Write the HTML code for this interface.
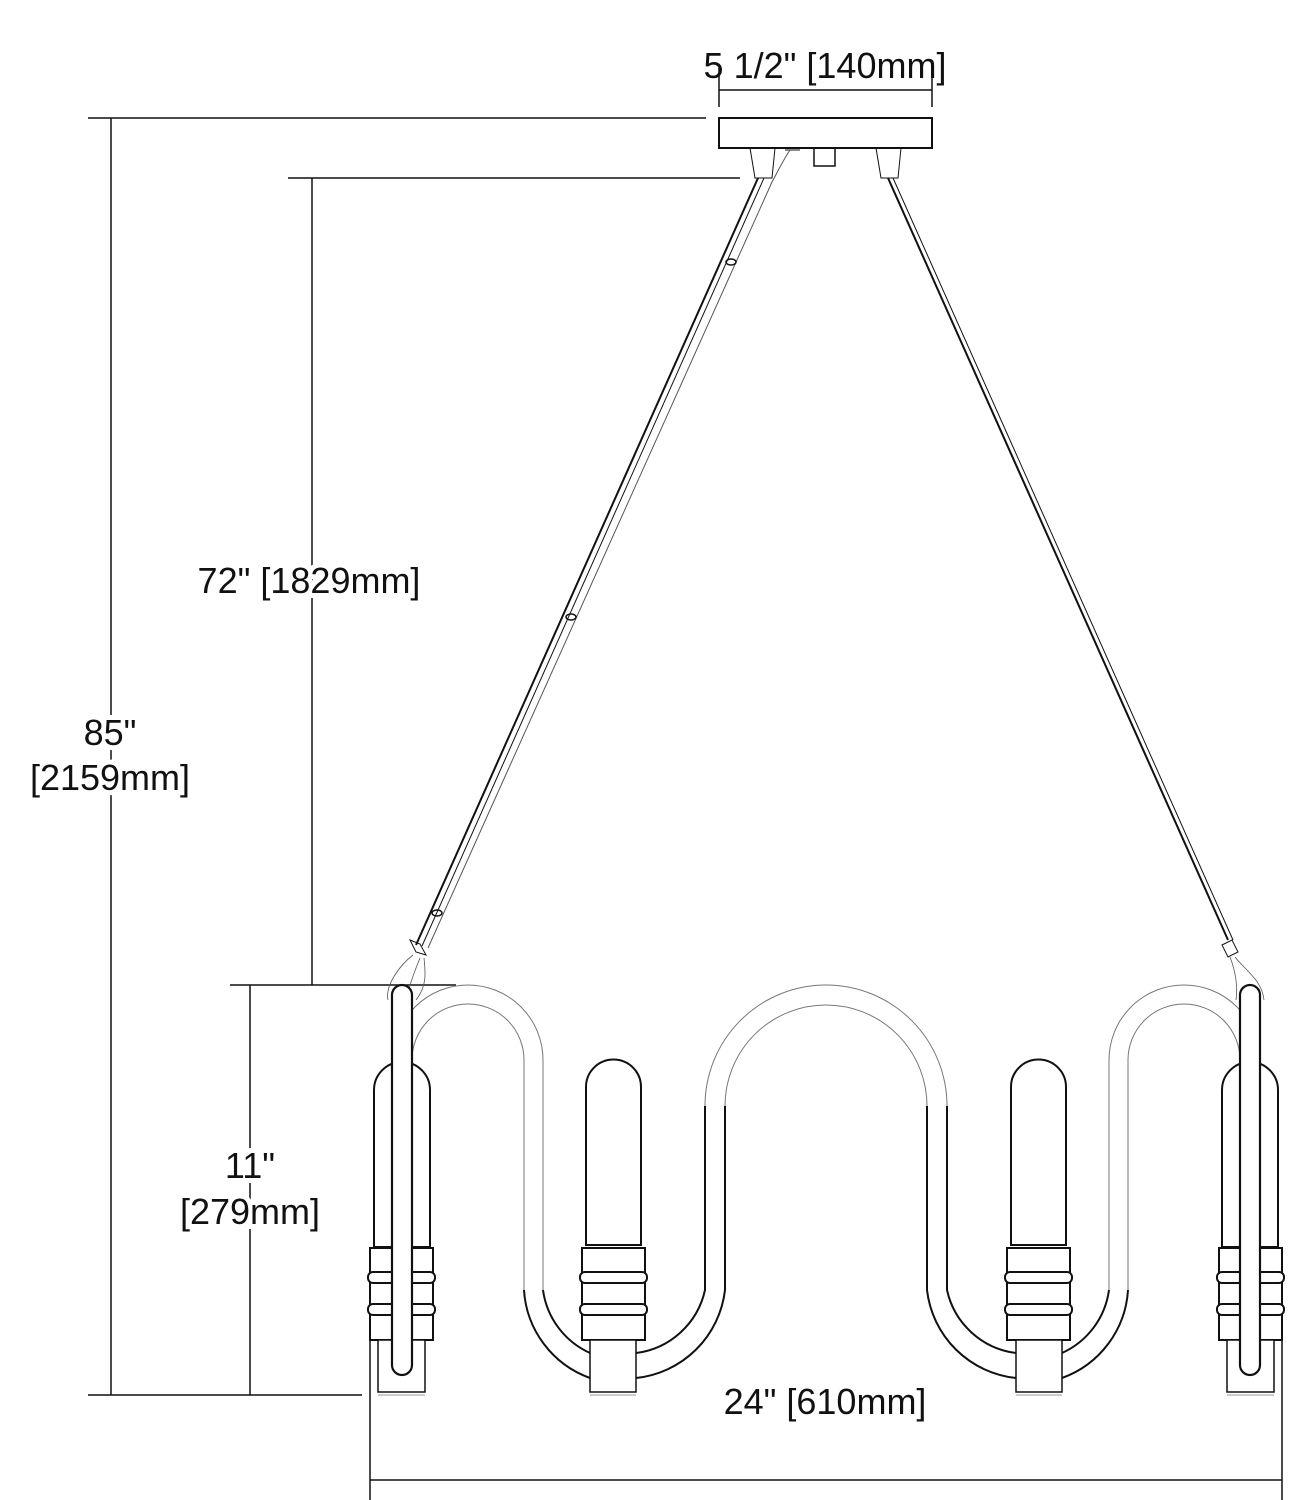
<!DOCTYPE html>
<html><head><meta charset="utf-8"><style>
html,body{margin:0;padding:0;background:#fff}
svg{display:block}
text{font-family:"Liberation Sans",sans-serif;font-size:36px;fill:#111}
.bg{stroke:#fff;stroke-width:10px;paint-order:stroke;}
</style></head><body>
<svg width="1313" height="1500" viewBox="0 0 1313 1500" xmlns="http://www.w3.org/2000/svg">
<g fill="none" stroke="#111" stroke-width="1.5">
<line x1="88" y1="118" x2="706" y2="118"/>
<line x1="88" y1="1395" x2="362" y2="1395"/>
<line x1="111" y1="118" x2="111" y2="1395"/>
<line x1="288" y1="178" x2="740" y2="178"/>
<line x1="230" y1="985" x2="456" y2="985"/>
<line x1="312" y1="178" x2="312" y2="985"/>
<line x1="250" y1="985" x2="250" y2="1395"/>
<line x1="370" y1="1480" x2="1282" y2="1480"/>
<line x1="370" y1="1322" x2="370" y2="1505"/>
<line x1="1282" y1="1322" x2="1282" y2="1505"/>
<line x1="719" y1="90" x2="932" y2="90"/>
<line x1="719" y1="68" x2="719" y2="107"/>
<line x1="932" y1="68" x2="932" y2="107"/>
<rect x="719" y="118" width="213" height="30" stroke-width="2"/>
<path d="M750 148 L755 178 L772 178 L775 148" stroke-width="1"/>
<path d="M876 148 L881 178 L898 178 L901 148" stroke-width="1"/>
<rect x="814" y="148" width="21" height="18"/>
<path d="M785 150 L800 150" stroke-width="1"/>
<path d="M758 178 L416 945" stroke-width="2"/>
<path d="M764 178 L422 946" stroke-width="1"/>
<path d="M790 150 C782 162 776 175 772 182 L428 948" stroke-width="1" stroke="#555"/>
<path d="M888 178 L1228 940" stroke-width="2"/>
<path d="M893 178 L1233 940" stroke-width="1"/>
<ellipse cx="731" cy="262" rx="5" ry="3" stroke-width="1.5"/>
<ellipse cx="571" cy="617" rx="5" ry="3" stroke-width="1.5"/>
<ellipse cx="437" cy="913" rx="5" ry="3" stroke-width="1.5"/>
<path d="M410 940 L420 944 L426 955 L416 952 Z" stroke-width="1"/>
<path d="M413 955 C400 965 385 985 388 1000 M420 958 C415 970 410 985 408 992 M424 958 C425 970 428 985 416 1000" stroke-width="0.8" stroke="#555"/>
<path d="M1222 945 L1232 940 L1238 952 L1228 957 Z" stroke-width="1"/>
<path d="M1230 957 C1235 970 1238 985 1236 1000 M1235 957 C1245 970 1262 980 1264 1000" stroke-width="0.8" stroke="#555"/>
</g>
<defs>
<g id="half" fill="none" stroke="#111">
  <path d="M393 1060 A75 75 0 0 1 543 1060 L543 1290" stroke="#777" stroke-width="1"/>
  <path d="M412 1060 A56 56 0 0 1 524 1060 L524 1290" stroke="#777" stroke-width="1"/>
  <path d="M705 1106 A121 121 0 0 1 826 985" stroke="#777" stroke-width="1"/>
  <path d="M725 1106 A101 101 0 0 1 826 1005" stroke="#777" stroke-width="1"/>
  <path d="M524 1290 A100 100 0 0 0 590 1378" stroke-width="2"/>
  <path d="M543 1290 A81 81 0 0 0 590 1353" stroke-width="2"/>
  <path d="M705 1106 L705 1290 A81 81 0 0 1 636 1353" stroke-width="2"/>
  <path d="M725 1106 L725 1290 A100 100 0 0 1 636 1378" stroke-width="2"/>
  <path d="M374 1247 L374 1090 A28 28 0 0 1 430 1090 L430 1247 Z" fill="#fff" stroke-width="2"/>
  <rect x="370" y="1248" width="63" height="92" fill="#fff" stroke-width="2"/>
  <rect x="368" y="1272" width="67" height="11" rx="5" fill="#fff" stroke-width="2"/>
  <rect x="368" y="1304" width="67" height="11" rx="5" fill="#fff" stroke-width="2"/>
  <rect x="378" y="1340" width="47" height="52" fill="#fff" stroke-width="1.5"/>
  <line x1="378" y1="1395" x2="425" y2="1395" stroke="#999" stroke-width="1"/>
  <rect x="392" y="985" width="20" height="390" rx="10" fill="#fff" stroke-width="2.2"/>
  <path d="M586 1245 L586 1087 A27.5 27.5 0 0 1 641 1087 L641 1245 Z" fill="#fff" stroke-width="2"/>
  <rect x="582" y="1248" width="63" height="92" fill="#fff" stroke-width="2"/>
  <rect x="580" y="1272" width="67" height="11" rx="5" fill="#fff" stroke-width="2"/>
  <rect x="580" y="1304" width="67" height="11" rx="5" fill="#fff" stroke-width="2"/>
  <rect x="590" y="1340" width="46" height="52" fill="#fff" stroke-width="1.5"/>
  <line x1="590" y1="1395" x2="636" y2="1395" stroke="#999" stroke-width="1"/>
</g>
</defs>
<use href="#half"/>
<use href="#half" transform="matrix(-1 0 0 1 1652 0)"/>

<text class="bg" x="110" y="745" text-anchor="middle">85"</text>
<text class="bg" x="110" y="790" text-anchor="middle">[2159mm]</text>
<text class="bg" x="309" y="593" text-anchor="middle">72" [1829mm]</text>
<text class="bg" x="250" y="1178" text-anchor="middle">11"</text>
<text class="bg" x="250" y="1224" text-anchor="middle">[279mm]</text>
<text x="825" y="1414" text-anchor="middle">24" [610mm]</text>
<text x="825" y="78" text-anchor="middle">5 1/2" [140mm]</text>
</svg>
</body></html>
